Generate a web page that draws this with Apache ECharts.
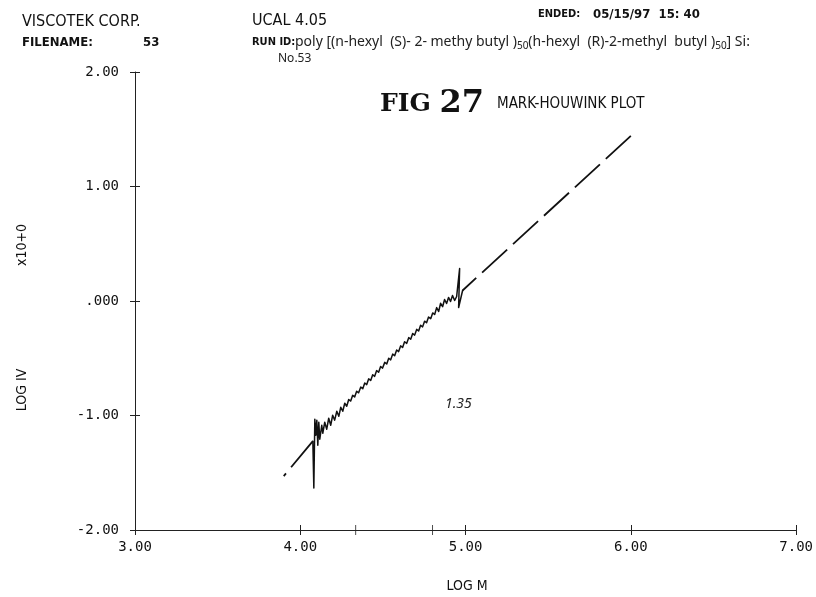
<!DOCTYPE html>
<html><head><meta charset="utf-8">
<script src="https://cdn.jsdelivr.net/npm/echarts@6/dist/echarts.min.js"></script>
<style>html,body{margin:0;padding:0;background:#fff}#c{width:816px;height:597px}</style>
</head><body><div id="c"></div>
<script>
// ---- data (LOG M, LOG IV) ----
var xTickLabels = ['3.00','4.00','5.00','6.00','7.00'];
var yTickLabels = ['-2.00','-1.00','.000','1.00','2.00'];
var mainX = [4.076,4.082,4.088,4.094,4.100,4.106,4.112,4.118,4.130,4.136,4.148,4.160,4.172,4.184,4.196,4.208,4.221,4.233,4.245,4.257,4.269,4.281,
  4.293,4.305,4.317,4.329,4.341,4.353,4.366,4.378,4.390,4.402,4.414,4.426,4.438,4.450,4.462,4.474,4.486,4.498,4.511,4.523,4.535,4.547,4.559,4.571,4.583,4.595,
  4.607,4.619,4.631,4.644,4.656,4.668,4.680,4.692,4.704,4.716,4.728,4.740,4.752,4.764,4.776,4.789,4.801,4.813,4.825,4.837,4.849,4.861,
  4.873,4.885,4.897,4.909,4.921,4.934,4.946,4.964,4.958,4.982];
var mainY = [-1.224,-1.634,-1.033,-1.172,-1.041,-1.259,-1.059,-1.207,-1.085,-1.155,-1.059,-1.120,-1.024,-1.085,-0.998,-1.041,-0.963,-1.007,-0.928,-0.963,-0.893,-0.919,
  -0.860,-0.874,-0.824,-0.838,-0.788,-0.802,-0.752,-0.766,-0.716,-0.730,-0.680,-0.694,-0.644,-0.658,-0.608,-0.622,-0.572,-0.586,-0.536,-0.550,-0.500,-0.514,-0.464,-0.478,-0.428,-0.442,
  -0.392,-0.406,-0.356,-0.370,-0.320,-0.334,-0.284,-0.298,-0.248,-0.262,-0.212,-0.226,-0.176,-0.190,-0.140,-0.154,-0.104,-0.118,-0.058,-0.092,-0.020,-0.050,
  0.013,-0.022,0.031,-0.004,0.048,0.004,0.039,0.283,-0.057,0.092];
var upperFitX = [6.00, 4.982];
var upperFitY = [1.442, 0.092];
var lowerFitX = [4.076, 3.900];
var lowerFitY = [-1.224, -1.529];
var limitX = [4.335, 4.80];

function pairs(xs, ys){ return xs.map(function(x,i){ return [x, ys[i]]; }); }

var mono = '"DejaVu Sans Mono", "Liberation Mono", monospace';
var narrow = '"Liberation Sans Narrow", "DejaVu Sans Condensed", "Liberation Sans", sans-serif';
var hand = '"Noto Sans", "Open Sans", sans-serif';

var chart = echarts.init(document.getElementById('c'), null, {renderer:'canvas'});
var axisLine = {show:true, onZero:false, lineStyle:{color:'#222', width:1}};
chart.setOption({
  animation:false,
  backgroundColor:'#fff',
  grid:{left:135, right:19, top:72, bottom:67},
  xAxis:[
    {type:'value', min:3, max:7, interval:1, splitLine:{show:false}, axisLine:axisLine,
      axisTick:{show:true, inside:false, length:5, lineStyle:{color:'#222'}},
      axisLabel:{margin:10, color:'#111', fontFamily:mono, fontSize:14,
        formatter:function(v){ return xTickLabels[Math.round(v-3)]; }}},
    {type:'value', min:3, max:7, interval:1, position:'bottom', splitLine:{show:false},
      axisLine:{show:false, onZero:false}, axisLabel:{show:false},
      axisTick:{show:true, inside:true, length:5, lineStyle:{color:'#222'}}}
  ],
  yAxis:[
    {type:'value', min:-2, max:2, interval:1, splitLine:{show:false}, axisLine:axisLine,
      axisTick:{show:true, inside:false, length:5, lineStyle:{color:'#222'}},
      axisLabel:{margin:16, color:'#111', fontFamily:mono, fontSize:14,
        formatter:function(v){ return yTickLabels[Math.round(v+2)]; }}},
    {type:'value', min:-2, max:2, interval:1, position:'left', splitLine:{show:false},
      axisLine:{show:false, onZero:false}, axisLabel:{show:false},
      axisTick:{show:true, inside:true, length:5, lineStyle:{color:'#222'}}}
  ],
  series:[
    {type:'lines', coordinateSystem:'cartesian2d', polyline:true, silent:true,
      data:[{coords:pairs(mainX, mainY)}],
      lineStyle:{color:'#111', width:1.5, opacity:1, curveness:0, join:'round', cap:'round'}},
    {type:'line', data:pairs(upperFitX, upperFitY), symbol:'none',
      lineStyle:{color:'#111', width:1.8, type:[34,8]}},
    {type:'line', data:pairs(lowerFitX, lowerFitY), symbol:'none',
      lineStyle:{color:'#111', width:1.8, type:[34,8]}},
    {type:'scatter', data:limitX.map(function(x){return [x,-2];}), symbol:'rect',
      symbolSize:[1,10], itemStyle:{color:'#222'}, clip:false}
  ],
  graphic:[
    {type:'text', left:22, top:14, style:{text:'VISCOTEK CORP.', font:'16px '+narrow, fill:'#111'}},
    {type:'text', left:22, top:36, style:{text:'FILENAME:', font:'bold 13px '+narrow, fill:'#111'}},
    {type:'text', left:143, top:36, style:{text:'53', font:'bold 13px '+narrow, fill:'#111'}},
    {type:'text', left:252, top:13, style:{text:'UCAL 4.05', font:'16px '+narrow, fill:'#111'}},
    {type:'text', left:538, top:9, style:{text:'ENDED:', font:'bold 11px '+narrow, fill:'#111'}},
    {type:'text', left:593, top:8, style:{text:'05/15/97  15: 40', font:'bold 13px '+narrow, fill:'#111'}},
    {type:'text', left:252, top:37, style:{text:'RUN ID:', font:'bold 11px '+narrow, fill:'#111'}},
    {type:'text', left:295, top:35, style:{
      rich:{
        t:{font:'14px '+hand, fill:'#222'},
        s:{font:'10px '+hand, fill:'#222', padding:[8,0,0,0]}
      },
      text:'{t|poly [(n-hexyl  (S)- 2- methy butyl )}{s|50}{t|(h-hexyl  (R)-2-methyl  butyl )}{s|50}{t|] Si:}'
    }},
    {type:'text', left:278, top:53, style:{text:'No.53', font:'12px '+hand, fill:'#222'}},
    {type:'text', left:380, top:88, style:{
      rich:{
        a:{font:'bold 25px "DejaVu Serif", "Liberation Serif", serif', fill:'#111'},
        b:{font:'bold 32px "DejaVu Serif", "Liberation Serif", serif', fill:'#111'}
      },
      text:'{a|FIG }{b|27}'}},
    {type:'text', left:497, top:97, style:{text:'MARK-HOUWINK PLOT', font:'15px '+narrow, fill:'#111'}},
    {type:'text', left:445, top:397, style:{text:'1.35', font:'italic 14px '+hand, fill:'#222'}},
    {type:'text', x:22, y:245, rotation:Math.PI/2, style:{text:'x10+0', font:'14px '+narrow, fill:'#111', align:'center', verticalAlign:'middle'}},
    {type:'text', x:22, y:390, rotation:Math.PI/2, style:{text:'LOG IV', font:'14px '+narrow, fill:'#111', align:'center', verticalAlign:'middle'}},
    {type:'text', x:467, y:586, style:{text:'LOG M', font:'14px '+narrow, fill:'#111', align:'center', verticalAlign:'middle'}}
  ]
});
</script></body></html>
